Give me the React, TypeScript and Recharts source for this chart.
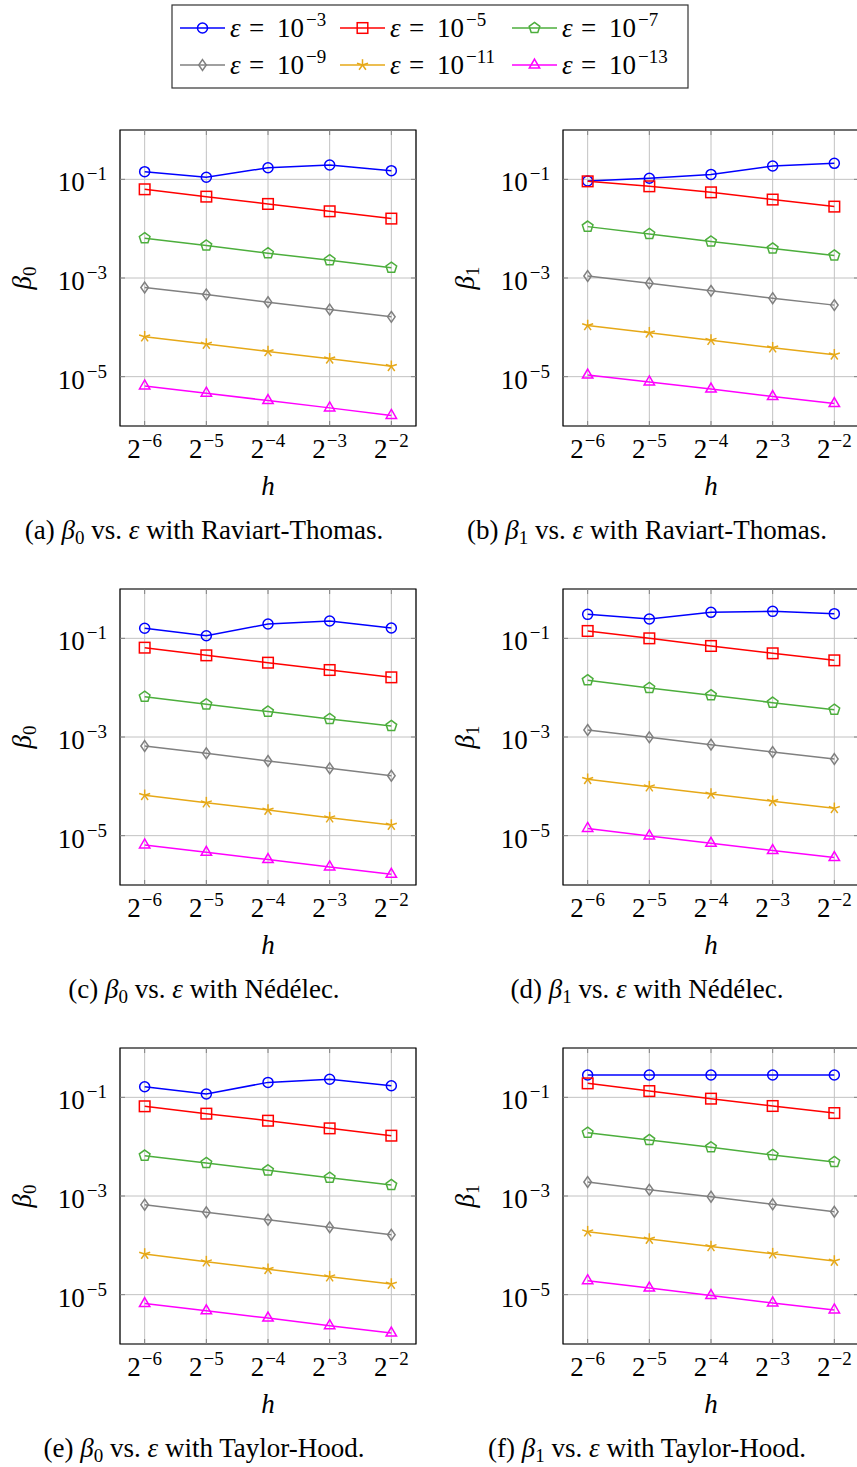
import React from 'react';
import {
  LineChart,
  Line,
  XAxis,
  YAxis,
  CartesianGrid,
  ReferenceArea,
  Label,
} from 'recharts';

// mesh sizes h = 2^e and penalty values eps = 10^e
const hExponents = [-6, -5, -4, -3, -2];
const epsExponents = [-3, -5, -7, -9, -11, -13];
const yTickExponents = [-1, -3, -5];

// one row per eps (10^-3 ... 10^-13), one column per h (2^-6 ... 2^-2)
const rtBeta0 = [
  [0.143, 0.11, 0.172, 0.195, 0.15],
  [0.0628, 0.0446, 0.0317, 0.0225, 0.016],
  [6.4e-3, 4.54e-3, 3.18e-3, 2.29e-3, 1.62e-3],
  [6.41e-4, 4.62e-4, 3.24e-4, 2.3e-4, 1.63e-4],
  [6.45e-5, 4.57e-5, 3.24e-5, 2.3e-5, 1.62e-5],
  [6.5e-6, 4.62e-6, 3.28e-6, 2.33e-6, 1.64e-6],
];
const rtBeta1 = [
  [0.0925, 0.105, 0.126, 0.186, 0.211],
  [0.091, 0.0722, 0.0545, 0.0389, 0.028],
  [1.1e-2, 7.82e-3, 5.47e-3, 3.95e-3, 2.85e-3],
  [1.1e-3, 7.85e-4, 5.49e-4, 3.9e-4, 2.82e-4],
  [1.09e-4, 7.76e-5, 5.5e-5, 3.86e-5, 2.78e-5],
  [1.08e-5, 7.8e-6, 5.6e-6, 3.95e-6, 2.85e-6],
];
const ndBeta0 = [
  [0.16, 0.113, 0.195, 0.225, 0.162],
  [0.0647, 0.0452, 0.0321, 0.0228, 0.0162],
  [6.57e-3, 4.59e-3, 3.27e-3, 2.32e-3, 1.67e-3],
  [6.57e-4, 4.67e-4, 3.27e-4, 2.32e-4, 1.64e-4],
  [6.57e-5, 4.67e-5, 3.31e-5, 2.32e-5, 1.64e-5],
  [6.5e-6, 4.6e-6, 3.27e-6, 2.32e-6, 1.65e-6],
];
const ndBeta1 = [
  [0.306, 0.247, 0.336, 0.352, 0.316],
  [0.141, 0.1, 0.07, 0.0497, 0.0358],
  [1.41e-2, 9.85e-3, 7.0e-3, 4.97e-3, 3.58e-3],
  [1.39e-3, 9.85e-4, 7.0e-4, 4.97e-4, 3.58e-4],
  [1.39e-4, 9.85e-5, 7.0e-5, 4.97e-5, 3.58e-5],
  [1.4e-5, 9.9e-6, 7.0e-6, 5.0e-6, 3.6e-6],
];
const thBeta0 = [
  [0.164, 0.117, 0.201, 0.232, 0.172],
  [0.0658, 0.0467, 0.0336, 0.0235, 0.0167],
  [6.58e-3, 4.67e-3, 3.31e-3, 2.35e-3, 1.67e-3],
  [6.67e-4, 4.67e-4, 3.31e-4, 2.32e-4, 1.64e-4],
  [6.67e-5, 4.67e-5, 3.27e-5, 2.32e-5, 1.64e-5],
  [6.6e-6, 4.7e-6, 3.35e-6, 2.35e-6, 1.67e-6],
];
const thBeta1 = [
  [0.284, 0.284, 0.284, 0.284, 0.284],
  [0.192, 0.134, 0.094, 0.0667, 0.048],
  [1.92e-2, 1.36e-2, 9.69e-3, 6.78e-3, 4.89e-3],
  [1.92e-3, 1.34e-3, 9.69e-4, 6.78e-4, 4.8e-4],
  [1.89e-4, 1.34e-4, 9.5e-5, 6.78e-5, 4.8e-5],
  [1.92e-5, 1.36e-5, 9.6e-6, 6.8e-6, 4.9e-6],
];

const seriesColors = ['#0000ff', '#ff0000', '#4cae3c', '#808080', '#e6a817', '#ff00ff'];
const seriesMarks = ['circle', 'square', 'pentagon', 'diamond', 'star', 'triangle'];

const FONT = "'Liberation Serif', 'Times New Roman', serif";
const MINUS = '\u2212';
const FS = 27; // main text size
const FS_SUP = 19; // super/subscript size

// plot geometry inside each chart svg
const PLOT_LEFT = 120;
const PLOT_TOP = 10;
const PLOT_SIZE = 296;
const CHART_W = PLOT_LEFT + PLOT_SIZE + 8;
const CHART_H = PLOT_TOP + PLOT_SIZE + 80;

const X_MIN = Math.pow(2, -6.4);
const X_MAX = Math.pow(2, -1.6);
const Y_MIN = 1e-6;
const Y_MAX = 1;

const hTicks = hExponents.map(e => Math.pow(2, e));
const yTicks = yTickExponents.map(e => Math.pow(10, e));

const toRows = (values: number[][]) =>
  hExponents.map((e, i) => {
    const row: Record<string, number> = { h: Math.pow(2, e) };
    values.forEach((s, k) => {
      row['s' + k] = s[i];
    });
    return row;
  });

function Mark({ kind, cx, cy, color }: { kind: string; cx: number; cy: number; color: string }) {
  const common = { fill: 'none', stroke: color, strokeWidth: 1.5 };
  const poly = (pts: [number, number][]) => (
    <polygon points={pts.map(([x, y]) => `${cx + x},${cy + y}`).join(' ')} {...common} />
  );
  const ring = (r: number, n: number) =>
    Array.from({ length: n }, (_, k) => {
      const a = -Math.PI / 2 + (k * 2 * Math.PI) / n;
      return [r * Math.cos(a), r * Math.sin(a)] as [number, number];
    });
  switch (kind) {
    case 'circle':
      return <circle cx={cx} cy={cy} r={5} {...common} />;
    case 'square':
      return <rect x={cx - 5.3} y={cy - 5.3} width={10.6} height={10.6} {...common} />;
    case 'pentagon':
      return poly(ring(5.6, 5));
    case 'diamond':
      return poly([[0, -5.4], [3.8, 0], [0, 5.4], [-3.8, 0]]);
    case 'star':
      return (
        <g>
          {ring(5.8, 5).map(([x, y], k) => (
            <line key={k} x1={cx} y1={cy} x2={cx + x} y2={cy + y} stroke={color} strokeWidth={1.5} />
          ))}
        </g>
      );
    default:
      return poly(ring(6, 3));
  }
}

const XTick = (props: any) => {
  const { x, y, payload } = props;
  const exp = Math.round(Math.log2(payload.value));
  return (
    <g>
      <line x1={x} x2={x} y1={y} y2={y - 5} stroke="#808080" />
      <line x1={x} x2={x} y1={PLOT_TOP} y2={PLOT_TOP + 5} stroke="#808080" />
      <text x={x} y={y + 32} textAnchor="middle" fontFamily={FONT} fontSize={FS} fill="#000">
        2
        <tspan dx={1} dy={-11} fontSize={FS_SUP}>
          {MINUS + Math.abs(exp)}
        </tspan>
      </text>
    </g>
  );
};

const YTick = (props: any) => {
  const { x, y, payload } = props;
  const exp = Math.round(Math.log10(payload.value));
  return (
    <g>
      <line x1={PLOT_LEFT} x2={PLOT_LEFT + 5} y1={y} y2={y} stroke="#808080" />
      <line x1={PLOT_LEFT + PLOT_SIZE - 5} x2={PLOT_LEFT + PLOT_SIZE} y1={y} y2={y} stroke="#808080" />
      <text x={x} y={y + 12} textAnchor="end" fontFamily={FONT} fontSize={FS} fill="#000">
        10
        <tspan dx={2} dy={-11} fontSize={FS_SUP}>
          {MINUS + Math.abs(exp)}
        </tspan>
      </text>
    </g>
  );
};

function Panel({ values, beta, left, top }: { values: number[][]; beta: string; left: number; top: number }) {
  const rows = toRows(values);
  return (
    <div style={{ position: 'absolute', left, top }}>
      <LineChart
        width={CHART_W}
        height={CHART_H}
        data={rows}
        margin={{ top: PLOT_TOP, right: 8, bottom: 0, left: 0 }}
      >
        <CartesianGrid stroke="#c2c2c2" strokeWidth={1} />
        <XAxis
          dataKey="h"
          type="number"
          scale="log"
          domain={[X_MIN, X_MAX]}
          allowDataOverflow
          ticks={hTicks}
          interval={0}
          tick={(p: any) => <XTick {...p} />}
          tickLine={false}
          axisLine={false}
          tickSize={0}
          tickMargin={0}
          height={80}
        >
          <Label
            content={(p: any) => {
              const vb = p.viewBox;
              return (
                <text
                  x={vb.x + vb.width / 2}
                  y={vb.y + 69}
                  textAnchor="middle"
                  fontFamily={FONT}
                  fontStyle="italic"
                  fontSize={FS}
                  fill="#000"
                >
                  h
                </text>
              );
            }}
          />
        </XAxis>
        <YAxis
          type="number"
          scale="log"
          domain={[Y_MIN, Y_MAX]}
          allowDataOverflow
          ticks={yTicks}
          interval={0}
          tick={(p: any) => <YTick {...p} />}
          tickLine={false}
          axisLine={false}
          tickSize={0}
          tickMargin={13}
          width={PLOT_LEFT}
        >
          <Label
            content={(p: any) => {
              const vb = p.viewBox;
              const lx = vb.x + 31;
              const ly = vb.y + vb.height / 2;
              return (
                <text
                  x={lx}
                  y={ly}
                  transform={`rotate(-90, ${lx}, ${ly})`}
                  textAnchor="middle"
                  fontFamily={FONT}
                  fontSize={FS}
                  fill="#000"
                >
                  <tspan fontStyle="italic">β</tspan>
                  <tspan dy={5} fontSize={FS_SUP}>
                    {beta}
                  </tspan>
                </text>
              );
            }}
          />
        </YAxis>
        <ReferenceArea
          x1={X_MIN}
          x2={X_MAX}
          y1={Y_MIN}
          y2={Y_MAX}
          fill="none"
          fillOpacity={0}
          stroke="#000"
          strokeWidth={1.2}
          ifOverflow="visible"
        />
        {epsExponents.map((e, k) => (
          <Line
            key={e}
            type="linear"
            dataKey={'s' + k}
            stroke={seriesColors[k]}
            strokeWidth={1.5}
            isAnimationActive={false}
            activeDot={false}
            dot={(p: any) => (
              <Mark key={`${k}-${p.index}`} kind={seriesMarks[k]} cx={p.cx} cy={p.cy} color={seriesColors[k]} />
            )}
          />
        ))}
      </LineChart>
    </div>
  );
}

const panels = [
  { values: rtBeta0, beta: '0', tag: 'a', method: 'Raviart-Thomas', col: 0, row: 0 },
  { values: rtBeta1, beta: '1', tag: 'b', method: 'Raviart-Thomas', col: 1, row: 0 },
  { values: ndBeta0, beta: '0', tag: 'c', method: 'Nédélec', col: 0, row: 1 },
  { values: ndBeta1, beta: '1', tag: 'd', method: 'Nédélec', col: 1, row: 1 },
  { values: thBeta0, beta: '0', tag: 'e', method: 'Taylor-Hood', col: 0, row: 2 },
  { values: thBeta1, beta: '1', tag: 'f', method: 'Taylor-Hood', col: 1, row: 2 },
];

const COL_LEFT = [0, 443];
const ROW_TOP = [120, 579, 1038];
const CAPTION_X = [204, 647];
const CAPTION_Y = [539, 998, 1457];

const LEGEND_LINE_X = [180, 340, 512];
const LEGEND_ROW_Y = [28, 65];

function Overlay() {
  return (
    <svg width={857} height={1467} style={{ position: 'absolute', left: 0, top: 0 }}>
      <rect x={172} y={5} width={516} height={83} fill="#fff" stroke="#333" strokeWidth={1.2} />
      {epsExponents.map((e, k) => {
        const lx = LEGEND_LINE_X[k % 3];
        const ly = LEGEND_ROW_Y[Math.floor(k / 3)];
        const tx = lx + 50;
        return (
          <g key={e}>
            <line x1={lx} x2={lx + 45} y1={ly} y2={ly} stroke={seriesColors[k]} strokeWidth={1.5} />
            <Mark kind={seriesMarks[k]} cx={lx + 22.5} cy={ly} color={seriesColors[k]} />
            <text x={tx} y={ly + 9} fontFamily={FONT} fontSize={FS} fill="#000">
              <tspan fontStyle="italic">ε</tspan>
              <tspan x={tx + 19}>=</tspan>
              <tspan x={tx + 47}>10</tspan>
              <tspan dx={2} dy={-11} fontSize={FS_SUP}>
                {MINUS + Math.abs(e)}
              </tspan>
            </text>
          </g>
        );
      })}
      {panels.map(p => (
        <text
          key={p.tag}
          x={CAPTION_X[p.col]}
          y={CAPTION_Y[p.row]}
          textAnchor="middle"
          fontFamily={FONT}
          fontSize={FS}
          fill="#000"
        >
          {`(${p.tag}) `}
          <tspan fontStyle="italic">β</tspan>
          <tspan dy={5} fontSize={FS_SUP}>
            {p.beta}
          </tspan>
          <tspan dy={-5}>{' vs. '}</tspan>
          <tspan fontStyle="italic">ε</tspan>
          {` with ${p.method}.`}
        </text>
      ))}
    </svg>
  );
}

export default function App() {
  return (
    <div
      style={{
        position: 'relative',
        width: 857,
        height: 1467,
        overflow: 'hidden',
        background: '#fff',
      }}
    >
      <style>{'body{margin:0}'}</style>
      <Overlay />
      {panels.map(p => (
        <Panel key={p.tag} values={p.values} beta={p.beta} left={COL_LEFT[p.col]} top={ROW_TOP[p.row]} />
      ))}
    </div>
  );
}
